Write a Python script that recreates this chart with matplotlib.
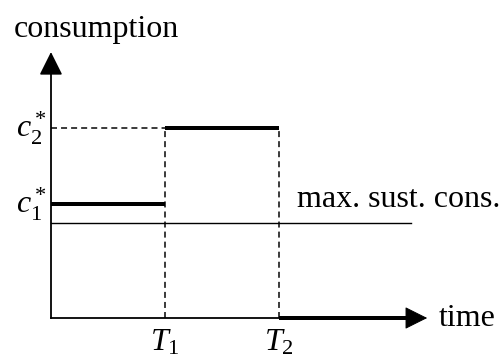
import matplotlib
matplotlib.use("Agg")
import matplotlib.pyplot as plt

plt.rcParams['font.family'] = 'Liberation Serif'
plt.rcParams['mathtext.fontset'] = 'custom'
plt.rcParams['mathtext.rm'] = 'Liberation Serif'
plt.rcParams['mathtext.it'] = 'Liberation Serif:italic'

# データ
T = [1.0, 2.0]            # T1, T2
c_star = [0.6, 1.0]       # c1*, c2*
max_sust = 0.5
t_end = 3.3
y_top = 1.4
t_labels = [r'$T_1$', r'$T_2$']
c_labels = [r'$c_1^*$', r'$c_2^*$']

fig = plt.figure(figsize=(504 / 72, 356 / 72), dpi=72)
ax = fig.add_axes([0, 0, 1, 1])
ax.set_xlim(-0.447, 3.974)
ax.set_ylim(-0.2, 1.674)
ax.axis('off')

# 軸
ax.plot([0, 0], [0, y_top - 0.1], color='k', lw=1.8)
ax.annotate('', xy=(0, y_top), xytext=(0, y_top - 0.11),
            arrowprops=dict(arrowstyle='-|>,head_length=1.0,head_width=0.5',
                            color='k', lw=1.6, mutation_scale=20,
                            shrinkA=0, shrinkB=0))
ax.plot([0, T[1]], [0, 0], color='k', lw=1.8)

# 最大持続可能消費
ax.plot([0, 3.16], [max_sust, max_sust], color='k', lw=1.4)

# 点線
dash = (0, (4, 2.7))
ax.plot([0, T[0]], [c_star[1], c_star[1]], color='k', lw=1.5, ls=dash)
for t in T:
    ax.plot([t, t], [0, c_star[1]], color='k', lw=1.5, ls=dash)

# 消費パス
ax.plot([0, T[0]], [c_star[0], c_star[0]], color='k', lw=4, solid_capstyle='butt')
ax.plot([T[0], T[1]], [c_star[1], c_star[1]], color='k', lw=4, solid_capstyle='butt')
ax.plot([T[1], t_end - 0.17], [0, 0], color='k', lw=4, solid_capstyle='butt')
ax.annotate('', xy=(t_end, 0), xytext=(t_end - 0.18, 0),
            arrowprops=dict(arrowstyle='-|>,head_length=1.0,head_width=0.5',
                            color='k', lw=1, mutation_scale=20,
                            shrinkA=0, shrinkB=0))

# テキスト
fs = 32
ax.text(-0.325, 1.52, 'consumption', fontsize=fs, va='center', ha='left')
for c, lab in zip(c_star, c_labels):
    ax.text(-0.04, c, lab, fontsize=fs, va='center', ha='right')
for t, lab in zip(T, t_labels):
    ax.text(t, -0.05, lab, fontsize=fs, va='top', ha='center')
ax.text(2.16, 0.585, 'max. sust. cons.', fontsize=fs, va='baseline', ha='left')
ax.text(3.40, 0, 'time', fontsize=fs, va='center', ha='left')

fig.savefig('out.png', dpi=72)
